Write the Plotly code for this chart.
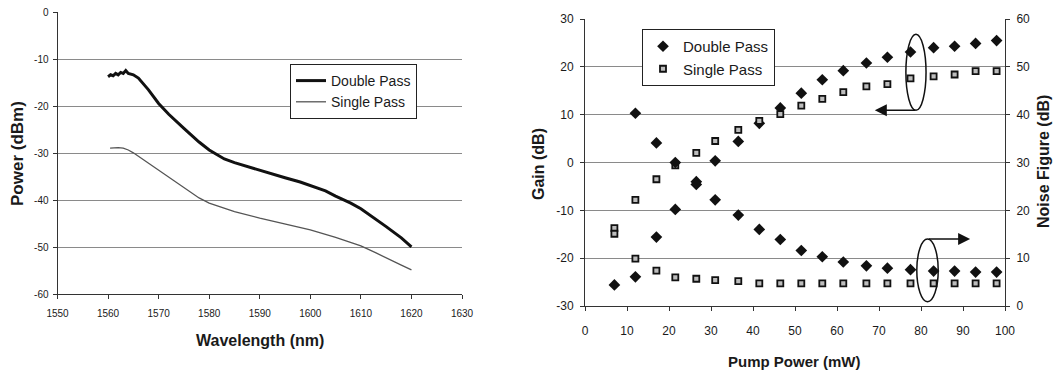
import plotly.graph_objects as go

W, H = 1053, 374

# ---------------- Left chart data: spectra ----------------
wl_double = [1560, 1560.5, 1561, 1561.5, 1562, 1562.5, 1563, 1563.5, 1564, 1565, 1566, 1567, 1568,
             1570, 1572, 1575, 1578, 1580, 1583, 1585, 1588, 1590, 1593, 1595, 1598, 1600, 1603,
             1605, 1608, 1610, 1613, 1615, 1618, 1620]
p_double = [-13.7, -13.3, -13.5, -13.0, -13.3, -12.8, -13.0, -12.4, -13.0, -13.3, -14.0, -15.2, -16.5,
            -19.4, -21.7, -24.7, -27.6, -29.3, -31.2, -32.0, -33.0, -33.7, -34.6, -35.2, -36.1, -36.8, -38.0,
            -39.1, -40.6, -41.8, -44.0, -45.6, -48.0, -49.9]
wl_single = [1560.4, 1562, 1563, 1564, 1565, 1567, 1570, 1572, 1575, 1578, 1580, 1583, 1585, 1590,
             1595, 1600, 1605, 1610, 1613, 1615, 1618, 1620]
p_single = [-28.9, -28.8, -28.9, -29.3, -29.9, -31.4, -33.5, -35.0, -37.4, -39.5, -40.6, -41.6, -42.4, -43.8,
            -45.1, -46.3, -47.9, -49.7, -51.2, -52.3, -53.8, -54.8]

wl_ticks = [1550, 1560, 1570, 1580, 1590, 1600, 1610, 1620, 1630]
pw_ticks = [0, -10, -20, -30, -40, -50, -60]
pw_ticktext = ["0", "-10", "-20", "-30", "-40", "-50", "-60"]

# ---------------- Right chart data: gain / noise figure ----------------
pump = [7, 12, 17, 21.5, 26.5, 31, 36.5, 41.5, 46.5, 51.5, 56.5, 61.5, 67, 72, 77.5, 83, 88, 93, 98]
gain_double = [-25.6, -23.9, -15.6, -9.8, -4.0, 0.35, 4.4, 8.2, 11.4, 14.5, 17.3, 19.2, 20.8, 22.0,
               23.1, 24.0, 24.3, 24.9, 25.5]
gain_single = [-13.7, -7.8, -3.5, -0.6, 2.0, 4.5, 6.8, 8.7, 10.1, 11.9, 13.3, 14.7, 15.9, 16.4,
               17.6, 18.0, 18.4, 19.1, 19.1]
pump_nf_double = [12, 17, 21.5, 26.5, 31, 36.5, 41.5, 46.5, 51.5, 56.5, 61.5, 67, 72, 77.5, 83, 88, 93, 98]
nf_double = [40.3, 34.1, 30.0, 25.4, 22.2, 19.0, 16.0, 13.9, 11.6, 10.3, 9.2, 8.4, 7.9, 7.6, 7.3, 7.3, 7.1, 7.1]
nf_single = [15.1, 9.9, 7.4, 6.0, 5.7, 5.4, 5.2, 4.75, 4.75, 4.75, 4.75, 4.75, 4.75, 4.75, 4.75, 4.75,
             4.75, 4.75, 4.75]

pump_ticks = [0, 10, 20, 30, 40, 50, 60, 70, 80, 90, 100]
gain_ticks = [30, 20, 10, 0, -10, -20, -30]
gain_ticktext = ["30", "20", "10", "0", "-10", "-20", "-30"]
nf_ticks = [0, 10, 20, 30, 40, 50, 60]

# annotation geometry (ellipses + arrows), in data units of the right chart
ell_gain = dict(x0=76.4, x1=81.2, y0=10.9, y1=26.8)
arrow_gain = dict(x_tail=79.0, x_head=69.0, y=10.9)
ell_nf = dict(x0=79.0, x1=84.1, y0=-29.1, y1=-16.0)
arrow_nf = dict(x_tail=81.5, x_head=91.7, y=-16.0)

FONT = "Liberation Sans, Arial, sans-serif"
INK = "#1a1a1a"
GRID = "#8a8a8a"

fig = go.Figure()

fig.add_trace(go.Scatter(x=wl_double, y=p_double, mode="lines", name="Double Pass",
                         line=dict(color="#111", width=3), xaxis="x", yaxis="y",
                         legend="legend", legendgroup="d"))
fig.add_trace(go.Scatter(x=wl_single, y=p_single, mode="lines", name="Single Pass",
                         line=dict(color="#555", width=1.3), xaxis="x", yaxis="y",
                         legend="legend", legendgroup="s"))

dia = dict(symbol="diamond", size=9, color="#111")
sq = dict(symbol="square", size=6, color="#bdbdbd", line=dict(color="#111", width=1.8))

fig.add_trace(go.Scatter(x=pump, y=gain_double, mode="markers", name="Double Pass", marker=dia,
                         xaxis="x2", yaxis="y2", legend="legend2", legendgroup="d2"))
fig.add_trace(go.Scatter(x=pump, y=gain_single, mode="markers", name="Single Pass", marker=sq,
                         xaxis="x2", yaxis="y2", legend="legend2", legendgroup="s2"))
fig.add_trace(go.Scatter(x=pump_nf_double, y=nf_double, mode="markers", name="Double Pass NF", marker=dia,
                         xaxis="x2", yaxis="y3", showlegend=False))
fig.add_trace(go.Scatter(x=pump, y=nf_single, mode="markers", name="Single Pass NF", marker=sq,
                         xaxis="x2", yaxis="y3", showlegend=False))

def px_x(p):
    return p / W

def px_y(p):
    return 1 - p / H

tickfont_l = dict(family=FONT, size=10, color=INK)
tickfont_r = dict(family=FONT, size=12, color=INK)

fig.update_layout(
    width=W, height=H,
    margin=dict(l=0, r=0, t=0, b=0),
    paper_bgcolor="white", plot_bgcolor="white",
    font=dict(family=FONT, color=INK),
    xaxis=dict(domain=[px_x(57.5), px_x(462)], range=[1550, 1630], tickvals=wl_ticks,
               ticks="outside", ticklen=4, tickcolor="#333", showline=True, linecolor="#333", linewidth=1,
               showgrid=False, zeroline=False, tickfont=tickfont_l, anchor="y", automargin=False,
               ticklabelstandoff=6),
    yaxis=dict(domain=[px_y(294.3), px_y(12.3)], range=[-60, 0], tickvals=pw_ticks, ticktext=pw_ticktext,
               ticks="outside", ticklen=4, tickcolor="#333", showline=True, linecolor="#333", linewidth=1,
               showgrid=True, gridcolor=GRID, gridwidth=1, zeroline=False, tickfont=tickfont_l,
               anchor="x", automargin=False, ticklabelstandoff=2),
    xaxis2=dict(domain=[px_x(585), px_x(1005)], range=[0, 100], tickvals=pump_ticks,
                ticks="outside", ticklen=4, tickcolor="#333", showline=True, linecolor="#333", linewidth=1,
                showgrid=False, zeroline=False, tickfont=tickfont_r, anchor="y2", automargin=False,
                ticklabelstandoff=10),
    yaxis2=dict(domain=[px_y(306), px_y(19)], range=[-30, 30], tickvals=gain_ticks, ticktext=gain_ticktext,
                ticks="outside", ticklen=4, tickcolor="#333", showline=True, linecolor="#333", linewidth=1,
                showgrid=True, gridcolor=GRID, gridwidth=1, zeroline=False, tickfont=tickfont_r,
                anchor="x2", automargin=False, ticklabelstandoff=4),
    yaxis3=dict(overlaying="y2", side="right", range=[0, 60], tickvals=nf_ticks,
                ticks="outside", ticklen=4, tickcolor="#333", showline=True, linecolor="#333", linewidth=1,
                showgrid=False, zeroline=False, tickfont=tickfont_r, anchor="x2", automargin=False,
                ticklabelstandoff=4),
    legend=dict(x=px_x(290), y=px_y(64), xanchor="left", yanchor="top",
                bordercolor="#222", borderwidth=1, bgcolor="white",
                font=dict(family=FONT, size=14, color=INK), itemwidth=30, tracegroupgap=6,
                traceorder="normal"),
    legend2=dict(x=px_x(642), y=px_y(29), xanchor="left", yanchor="top",
                 bordercolor="#222", borderwidth=1, bgcolor="white",
                 font=dict(family=FONT, size=15, color=INK), itemwidth=30, tracegroupgap=10,
                 traceorder="normal"),
    showlegend=True,
)

title_font = dict(family=FONT, size=16, color=INK, weight="bold")
annos = [
    dict(text="Power (dBm)", x=px_x(17), y=px_y(154), textangle=-90,
         font=dict(family=FONT, size=17, color=INK, weight="bold")),
    dict(text="Wavelength (nm)", x=px_x(260), y=px_y(340), font=title_font),
    dict(text="Pump Power (mW)", x=px_x(795), y=px_y(361), font=dict(family=FONT, size=15, color=INK, weight="bold")),
    dict(text="Gain (dB)", x=px_x(538), y=px_y(164), textangle=-90, font=title_font),
    dict(text="Noise Figure (dB)", x=px_x(1044), y=px_y(162), textangle=-90, font=title_font),
]
for a in annos:
    fig.add_annotation(xref="paper", yref="paper", showarrow=False, xanchor="center", yanchor="middle", **a)

for arr in (arrow_gain, arrow_nf):
    fig.add_annotation(xref="x2", yref="y2", axref="x2", ayref="y2",
                       x=arr["x_head"], y=arr["y"], ax=arr["x_tail"], ay=arr["y"],
                       text="", showarrow=True, arrowhead=2, arrowsize=1.6, arrowwidth=1.5,
                       arrowcolor="#111", standoff=0)

for e in (ell_gain, ell_nf):
    fig.add_shape(type="circle", xref="x2", yref="y2", x0=e["x0"], x1=e["x1"], y0=e["y0"], y1=e["y1"],
                  line=dict(color="#111", width=1.5))

fig.write_html("out.html", config={"displayModeBar": False},
               post_script="document.body.style.margin='0';document.body.style.overflow='hidden';")
